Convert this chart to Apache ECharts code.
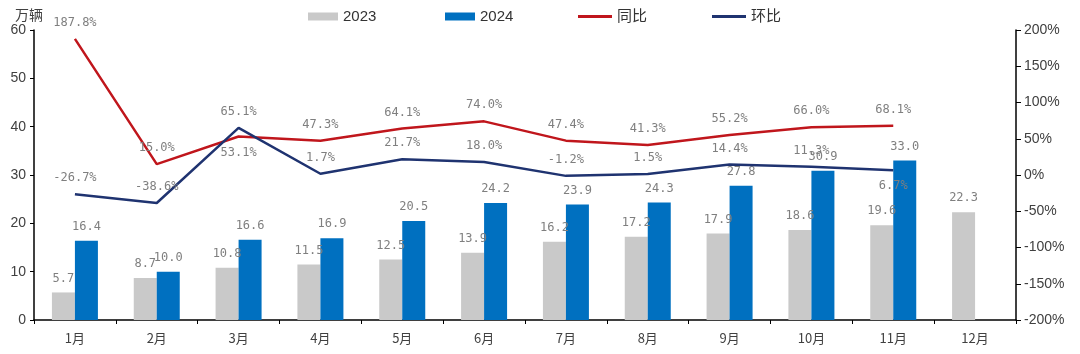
<!DOCTYPE html>
<html>
<head>
<meta charset="utf-8">
<script src="https://cdn.jsdelivr.net/npm/echarts@6/dist/echarts.min.js"></script>
<style>
  html, body { margin: 0; padding: 0; background: #fff; }
  #chart { width: 1080px; height: 354px; }
</style>
</head>
<body>
<div id="chart"></div>
<script>
const months = ['1月', '2月', '3月', '4月', '5月', '6月', '7月', '8月', '9月', '10月', '11月', '12月'];
const sales2023 = [5.7, 8.7, 10.8, 11.5, 12.5, 13.9, 16.2, 17.2, 17.9, 18.6, 19.6, 22.3];
const sales2024 = [16.4, 10.0, 16.6, 16.9, 20.5, 24.2, 23.9, 24.3, 27.8, 30.9, 33.0];
const yoy = [187.8, 15.0, 53.1, 47.3, 64.1, 74.0, 47.4, 41.3, 55.2, 66.0, 68.1];
const mom = [-26.7, -38.6, 65.1, 1.7, 21.7, 18.0, -1.2, 1.5, 14.4, 11.3, 6.7];

const labelFont = {
    fontFamily: 'DejaVu Sans Mono',
    fontSize: 12,
    color: '#7f7f7f'
};
const axisFont = {
    fontFamily: 'Liberation Sans',
    fontSize: 14,
    color: '#404040'
};

const chart = echarts.init(document.getElementById('chart'));

function legendAt(name, left, w, h, color) {
    return {
        data: [name],
        left: left,
        top: 4,
        icon: 'rect',
        itemWidth: w,
        itemHeight: h,
        itemGap: 0,
        itemStyle: { color: color },
        textStyle: {
            fontFamily: 'Liberation Sans, Noto Sans CJK SC',
            fontSize: 15,
            color: '#333'
        }
    };
}

// 同比 / 环比 label positions: 3月同比 below the line, 11月环比 below
function pctData(values, belowIdx) {
    return values.map((v, i) => ({
        value: v,
        label: { position: i === belowIdx ? 'bottom' : 'top' }
    }));
}

const option = {
    animation: false,
    legend: [
        legendAt('2023', 303, 30, 8, '#c9c9c9'),
        legendAt('2024', 440, 30, 8, '#0070c0'),
        legendAt('同比', 573, 34, 3, '#c0161c'),
        legendAt('环比', 707, 34, 3, '#1f3370')
    ],
    grid: {
        left: 34,
        right: 64,
        top: 30,
        bottom: 34
    },
    xAxis: {
        type: 'category',
        data: months,
        axisLine: { lineStyle: { color: '#000', width: 1.5 } },
        axisTick: { show: true, length: 4, interval: 0, lineStyle: { color: '#000' } },
        axisLabel: {
            interval: 0,
            margin: 12,
            fontFamily: 'Noto Sans CJK SC',
            fontSize: 13,
            color: '#404040'
        }
    },
    yAxis: [{
        type: 'value',
        min: 0,
        max: 60,
        interval: 10,
        name: '万辆',
        nameGap: 8,
        nameTextStyle: {
            fontFamily: 'Noto Sans CJK SC',
            fontSize: 14,
            color: '#404040',
            padding: [0, 10, 0, 0]
        },
        axisLine: { show: true, lineStyle: { color: '#000', width: 1.5 } },
        axisTick: { show: true, length: 4, lineStyle: { color: '#000' } },
        splitLine: { show: false },
        axisLabel: Object.assign({ margin: 8 }, axisFont)
    }, {
        type: 'value',
        min: -200,
        max: 200,
        interval: 50,
        axisLine: { show: true, lineStyle: { color: '#000', width: 1.5 } },
        axisTick: { show: true, length: 5, lineStyle: { color: '#000' } },
        splitLine: { show: false },
        axisLabel: Object.assign({ margin: 8, formatter: '{value}%' }, axisFont)
    }],
    series: [{
        name: '2023',
        type: 'bar',
        data: sales2023,
        barWidth: 23,
        barGap: '0%',
        itemStyle: { color: '#c9c9c9' },
        label: Object.assign({ show: true, position: 'top', distance: 8, formatter: p => p.value.toFixed(1) }, labelFont)
    }, {
        name: '2024',
        type: 'bar',
        data: sales2024,
        barWidth: 23,
        barGap: '0%',
        itemStyle: { color: '#0070c0' },
        label: Object.assign({ show: true, position: 'top', distance: 8, formatter: p => p.value.toFixed(1) }, labelFont)
    }, {
        name: '同比',
        type: 'line',
        yAxisIndex: 1,
        data: pctData(yoy, 2),
        symbol: 'circle',
        symbolSize: 0.1,
        showAllSymbol: true,
        lineStyle: { color: '#c0161c', width: 2.5 },
        itemStyle: { color: '#c0161c' },
        label: Object.assign({ show: true, distance: 10, formatter: p => p.value.toFixed(1) + '%' }, labelFont)
    }, {
        name: '环比',
        type: 'line',
        yAxisIndex: 1,
        data: pctData(mom, 10),
        symbol: 'circle',
        symbolSize: 0.1,
        showAllSymbol: true,
        lineStyle: { color: '#1f3370', width: 2.5 },
        itemStyle: { color: '#1f3370' },
        label: Object.assign({ show: true, distance: 10, formatter: p => p.value.toFixed(1) + '%' }, labelFont)
    }]
};

chart.setOption(option);
</script>
</body>
</html>
